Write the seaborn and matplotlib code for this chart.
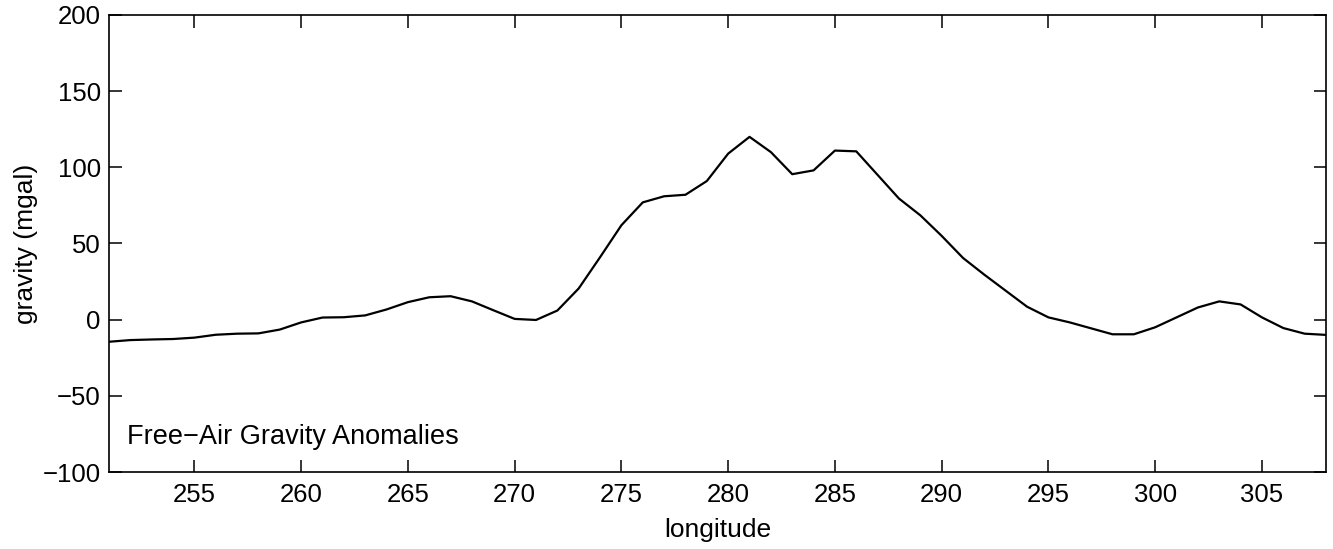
import matplotlib
matplotlib.use("Agg")
import matplotlib.pyplot as plt
import seaborn as sns
import pandas as pd

longitude = list(range(251, 309))
gravity = [-14.5, -13.4, -13.0, -12.7, -11.8, -9.9, -9.2, -9.0, -6.5, -1.8,
           1.4, 1.6, 2.8, 6.7, 11.5, 14.7, 15.4, 12.0, 6.2, 0.5,
           -0.2, 6.0, 20.5, 41.0, 62.0, 77.0, 81.0, 82.0, 91.0, 109.0,
           120.0, 110.0, 95.5, 98.0, 111.0, 110.5, 95.0, 79.5, 68.5, 55.0,
           40.5, 29.5, 19.0, 8.5, 1.5, -1.8, -5.7, -9.6, -9.6, -5.0,
           1.5, 8.0, 12.0, 10.0, 1.5, -5.5, -9.2, -10.0]

xticks = [255, 260, 265, 270, 275, 280, 285, 290, 295, 300, 305]
yticks = [-100, -50, 0, 50, 100, 150, 200]
label_text = "Free\u2212Air Gravity Anomalies"

sns.set_style("ticks")
plt.rcParams['font.family'] = ['Liberation Sans', 'DejaVu Sans']
plt.rcParams['axes.unicode_minus'] = True
plt.rcParams['text.color'] = 'black'
plt.rcParams['axes.labelcolor'] = 'black'

df = pd.DataFrame({"longitude": longitude, "gravity": gravity})

fs = 18.5
fig = plt.figure(figsize=(13.33, 5.49), dpi=100)
ax = fig.add_axes([109 / 1333, 1 - 472 / 549, 1217 / 1333, 457 / 549])
sns.lineplot(data=df, x="longitude", y="gravity", ax=ax, color="black", linewidth=1.6)

ax.set_xlim(251, 308)
ax.set_ylim(-100, 200)
ax.set_xticks(xticks)
ax.set_yticks(yticks)
ax.tick_params(direction="in", length=9, width=1.1, top=True, right=True,
               labelsize=fs, colors="black")
ax.tick_params(axis="x", pad=8)
ax.tick_params(axis="y", pad=6)
for s in ax.spines.values():
    s.set_visible(True)
    s.set_linewidth(1.2)
    s.set_color("black")
ax.set_xlabel("longitude", fontsize=19, labelpad=8, color="black")
ax.set_ylabel("gravity (mgal)", fontsize=19, labelpad=3, color="black")
ax.text(0.015, 0.076, label_text, transform=ax.transAxes, fontsize=19.5,
        ha="left", va="center", color="black")

fig.savefig("out.png", dpi=100)
